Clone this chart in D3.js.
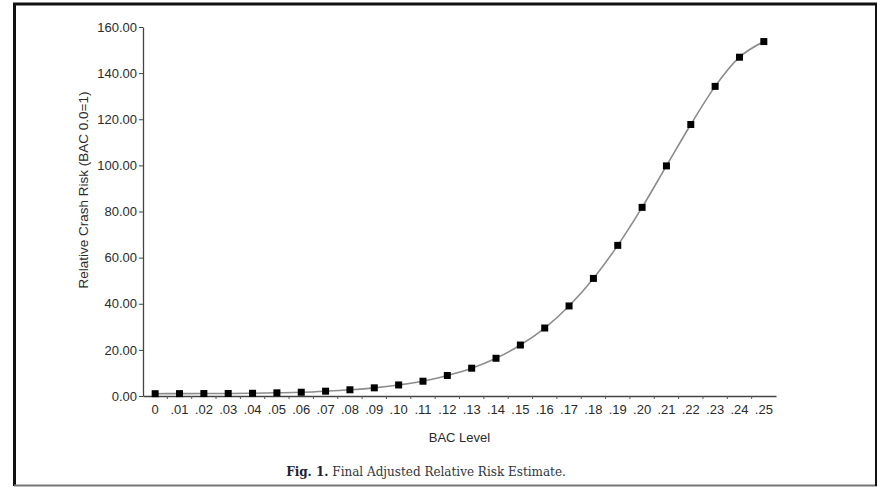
<!DOCTYPE html>
<html>
<head>
<meta charset="utf-8">
<script src="https://cdn.jsdelivr.net/npm/d3@7"></script>
<style>
  body { margin: 0; background: #fff; }
  svg { display: block; }
</style>
</head>
<body>
<div id="chart"></div>
<script>
// BAC levels and adjusted relative crash risk
const bacLevels = ["0", ".01", ".02", ".03", ".04", ".05", ".06", ".07", ".08", ".09",
    ".10", ".11", ".12", ".13", ".14", ".15", ".16", ".17", ".18", ".19",
    ".20", ".21", ".22", ".23", ".24", ".25"];
const relativeRisk = [1.00, 1.03, 1.06, 1.09, 1.18, 1.38, 1.63, 2.09, 2.69, 3.54,
    4.79, 6.41, 8.90, 12.06, 16.36, 22.10, 29.48, 39.05, 50.99, 65.32,
    81.79, 99.78, 117.72, 134.26, 146.90, 153.68];
const yTicks = [0, 20, 40, 60, 80, 100, 120, 140, 160];

const width = 877, height = 487;
const plotLeft = 143, plotRight = 776, plotTop = 27, plotBottom = 396;

const svg = d3.select("#chart")
    .append("svg")
    .attr("width", width)
    .attr("height", height);

// frame
svg.append("line").attr("x1", 13).attr("x2", 877).attr("y1", 4).attr("y2", 4)
    .attr("stroke", "#111").attr("stroke-width", 3);
svg.append("line").attr("x1", 14.5).attr("x2", 14.5).attr("y1", 3).attr("y2", 486)
    .attr("stroke", "#111").attr("stroke-width", 3);
svg.append("line").attr("x1", 14).attr("x2", 877).attr("y1", 485.5).attr("y2", 485.5)
    .attr("stroke", "#777").attr("stroke-width", 2);
svg.append("line").attr("x1", 876).attr("x2", 876).attr("y1", 3).attr("y2", 486)
    .attr("stroke", "#111").attr("stroke-width", 2);

const x = d3.scaleBand().domain(bacLevels).range([plotLeft, plotRight]);
const y = d3.scaleLinear().domain([0, 160]).range([plotBottom, plotTop]);

const tickFont = "Liberation Sans, Arial, Helvetica, sans-serif";

// y axis
const yAxis = svg.append("g")
    .attr("transform", `translate(${plotLeft},0)`)
    .call(d3.axisLeft(y).tickValues(yTicks).tickFormat(d3.format(".2f")).tickSize(4).tickSizeOuter(0));
yAxis.select(".domain").attr("stroke", "#444").attr("stroke-width", 1.3);
yAxis.selectAll(".tick line").attr("stroke", "#444");
yAxis.selectAll("text")
    .attr("x", -6)
    .attr("fill", "#2a2a2a")
    .style("font-family", tickFont)
    .style("font-size", "13px");

// x axis
const xAxis = svg.append("g")
    .attr("transform", `translate(0,${plotBottom})`)
    .call(d3.axisBottom(x).tickSize(0).tickSizeOuter(0));
xAxis.select(".domain").attr("stroke", "#444").attr("stroke-width", 1.3);
xAxis.selectAll("text")
    .attr("y", 9)
    .attr("fill", "#2a2a2a")
    .style("font-family", tickFont)
    .style("font-size", "13px");
// small ticks on band boundaries
xAxis.selectAll(".bound")
    .data(bacLevels.slice(1))
    .enter()
    .append("line")
    .attr("x1", d => x(d))
    .attr("x2", d => x(d))
    .attr("y1", 0)
    .attr("y2", 3)
    .attr("stroke", "#555");

// axis titles
svg.append("text")
    .attr("x", (plotLeft + plotRight) / 2)
    .attr("y", 442)
    .attr("text-anchor", "middle")
    .attr("fill", "#2a2a2a")
    .style("font-family", tickFont)
    .style("font-size", "13px")
    .text("BAC Level");

svg.append("text")
    .attr("transform", "translate(88,190) rotate(-90)")
    .attr("text-anchor", "middle")
    .attr("fill", "#2a2a2a")
    .style("font-family", tickFont)
    .style("font-size", "13.5px")
    .text("Relative Crash Risk (BAC 0.0=1)");

// curve
const pts = bacLevels.map((b, i) => ({ b: b, v: relativeRisk[i] }));
svg.append("path")
    .datum(pts)
    .attr("d", d3.line()
        .x(d => x(d.b) + x.bandwidth() / 2)
        .y(d => y(d.v))
        .curve(d3.curveMonotoneX))
    .attr("fill", "none")
    .attr("stroke", "#8c8c8c")
    .attr("stroke-width", 1.6);

// markers
const s = 7;
svg.selectAll(".pt")
    .data(pts)
    .enter()
    .append("rect")
    .attr("x", d => x(d.b) + x.bandwidth() / 2 - s / 2)
    .attr("y", d => y(d.v) - s / 2)
    .attr("width", s)
    .attr("height", s)
    .attr("fill", "#000");

// caption
const cap = svg.append("text")
    .attr("x", 426)
    .attr("y", 476)
    .attr("text-anchor", "middle")
    .attr("fill", "#2f3540")
    .style("font-family", "DejaVu Serif, Liberation Serif, serif")
    .style("font-size", "12px");
cap.append("tspan").attr("font-weight", "bold").attr("fill", "#1d2230").text("Fig. 1.");
cap.append("tspan").text(" Final Adjusted Relative Risk Estimate.");
</script>
</body>
</html>
